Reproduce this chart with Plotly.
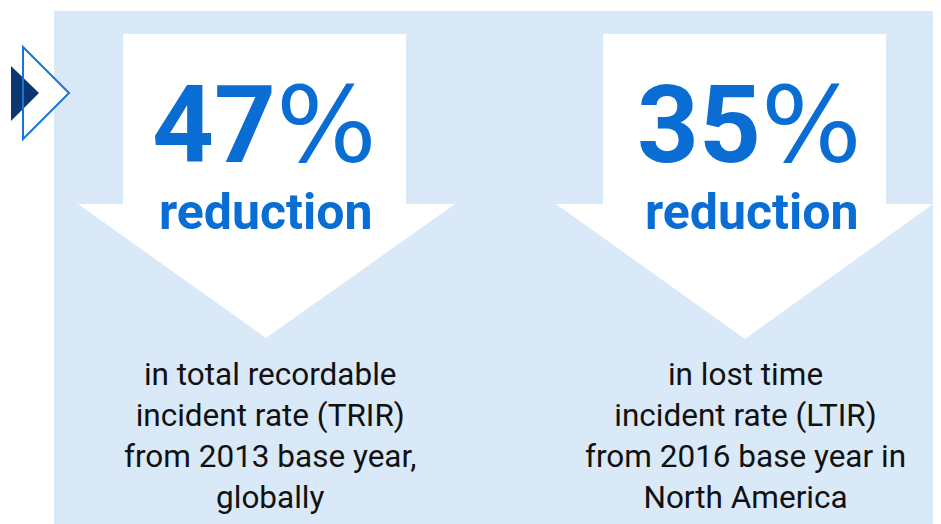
import plotly.graph_objects as go

# ---- data ----
percent_values = [47, 35]
headline_word = ["reduction", "reduction"]
descriptions = [
    ["in total recordable", "incident rate (TRIR)", "from 2013 base year,", "globally"],
    ["in lost time", "incident rate (LTIR)", "from 2016 base year in", "North America"],
]

# ---- styles ----
BG = "#d9e9f7"
BLUE = "#0a6dd4"
NAVY = "#0b3670"
OUTLINE = "#1a74d8"
FONT = "Roboto"

W, H = 941, 524
OFF = 8  # compensates the page's default body margin
fig = go.Figure()
fig.add_trace(go.Scatter(x=[0], y=[0], mode="markers", marker=dict(opacity=0), hoverinfo="skip", showlegend=False))

shapes = []
# light panel
shapes.append(dict(type="rect", x0=54, x1=960, y0=11, y1=540, fillcolor=BG, line=dict(width=0), layer="below"))

# arrow geometry for each panel
arrows = [
    dict(sl=123, sr=406, top=34, neck=204, hl=78, hr=455, tipx=266, tipy=338),
    dict(sl=603, sr=886, top=34, neck=204, hl=556, hr=933, tipx=745, tipy=339),
]
for a in arrows:
    path = (f"M {a['sl']},{a['top']} L {a['sr']},{a['top']} L {a['sr']},{a['neck']} "
            f"L {a['hr']},{a['neck']} L {a['tipx']},{a['tipy']} L {a['hl']},{a['neck']} "
            f"L {a['sl']},{a['neck']} Z")
    shapes.append(dict(type="path", path=path, fillcolor="white", line=dict(width=0), layer="below"))

# chevron icon
shapes.append(dict(type="path", path="M 23,47 L 69,93 L 23,139 Z", fillcolor="white", line=dict(width=0), layer="above"))
shapes.append(dict(type="path", path="M 11,66 L 39,93 L 11,121 Z", fillcolor=NAVY, line=dict(width=0), layer="above"))
shapes.append(dict(type="path", path="M 23,47 L 69,93 L 23,139 Z", fillcolor="rgba(0,0,0,0)", line=dict(width=2, color=OUTLINE), layer="above"))

annotations = []
num_center = [264, 749]
desc_center = [270, 745]
word_center = [265, 751]
for i in range(2):
    annotations.append(dict(x=num_center[i], y=125, xref="x", yref="y", showarrow=False,
                            text=(f"<b>{percent_values[i]}</b>"
                                  "<span style=\"font-family:'DejaVu Sans';font-size:106px\">%</span>"),
                            xanchor="center", yanchor="middle",
                            font=dict(family=FONT, size=108, color=BLUE)))
    annotations.append(dict(x=word_center[i], y=212, xref="x", yref="y", showarrow=False,
                            text=f"<b>{headline_word[i]}</b>", xanchor="center", yanchor="middle",
                            font=dict(family=FONT, size=50, color=BLUE)))
    annotations.append(dict(x=desc_center[i], y=436, xref="x", yref="y", showarrow=False,
                            text="<br>".join(descriptions[i]), xanchor="center", yanchor="middle",
                            align="center",
                            font=dict(family=FONT, size=31.5, color="#111111")))

fig.update_layout(
    width=W, height=H, margin=dict(l=0, r=0, t=0, b=0),
    paper_bgcolor="white", plot_bgcolor="white",
    xaxis=dict(range=[OFF, W + OFF], visible=False, fixedrange=True),
    yaxis=dict(range=[H + OFF, OFF], visible=False, fixedrange=True),
    shapes=shapes, annotations=annotations, showlegend=False,
)
fig.write_html("out.html")
